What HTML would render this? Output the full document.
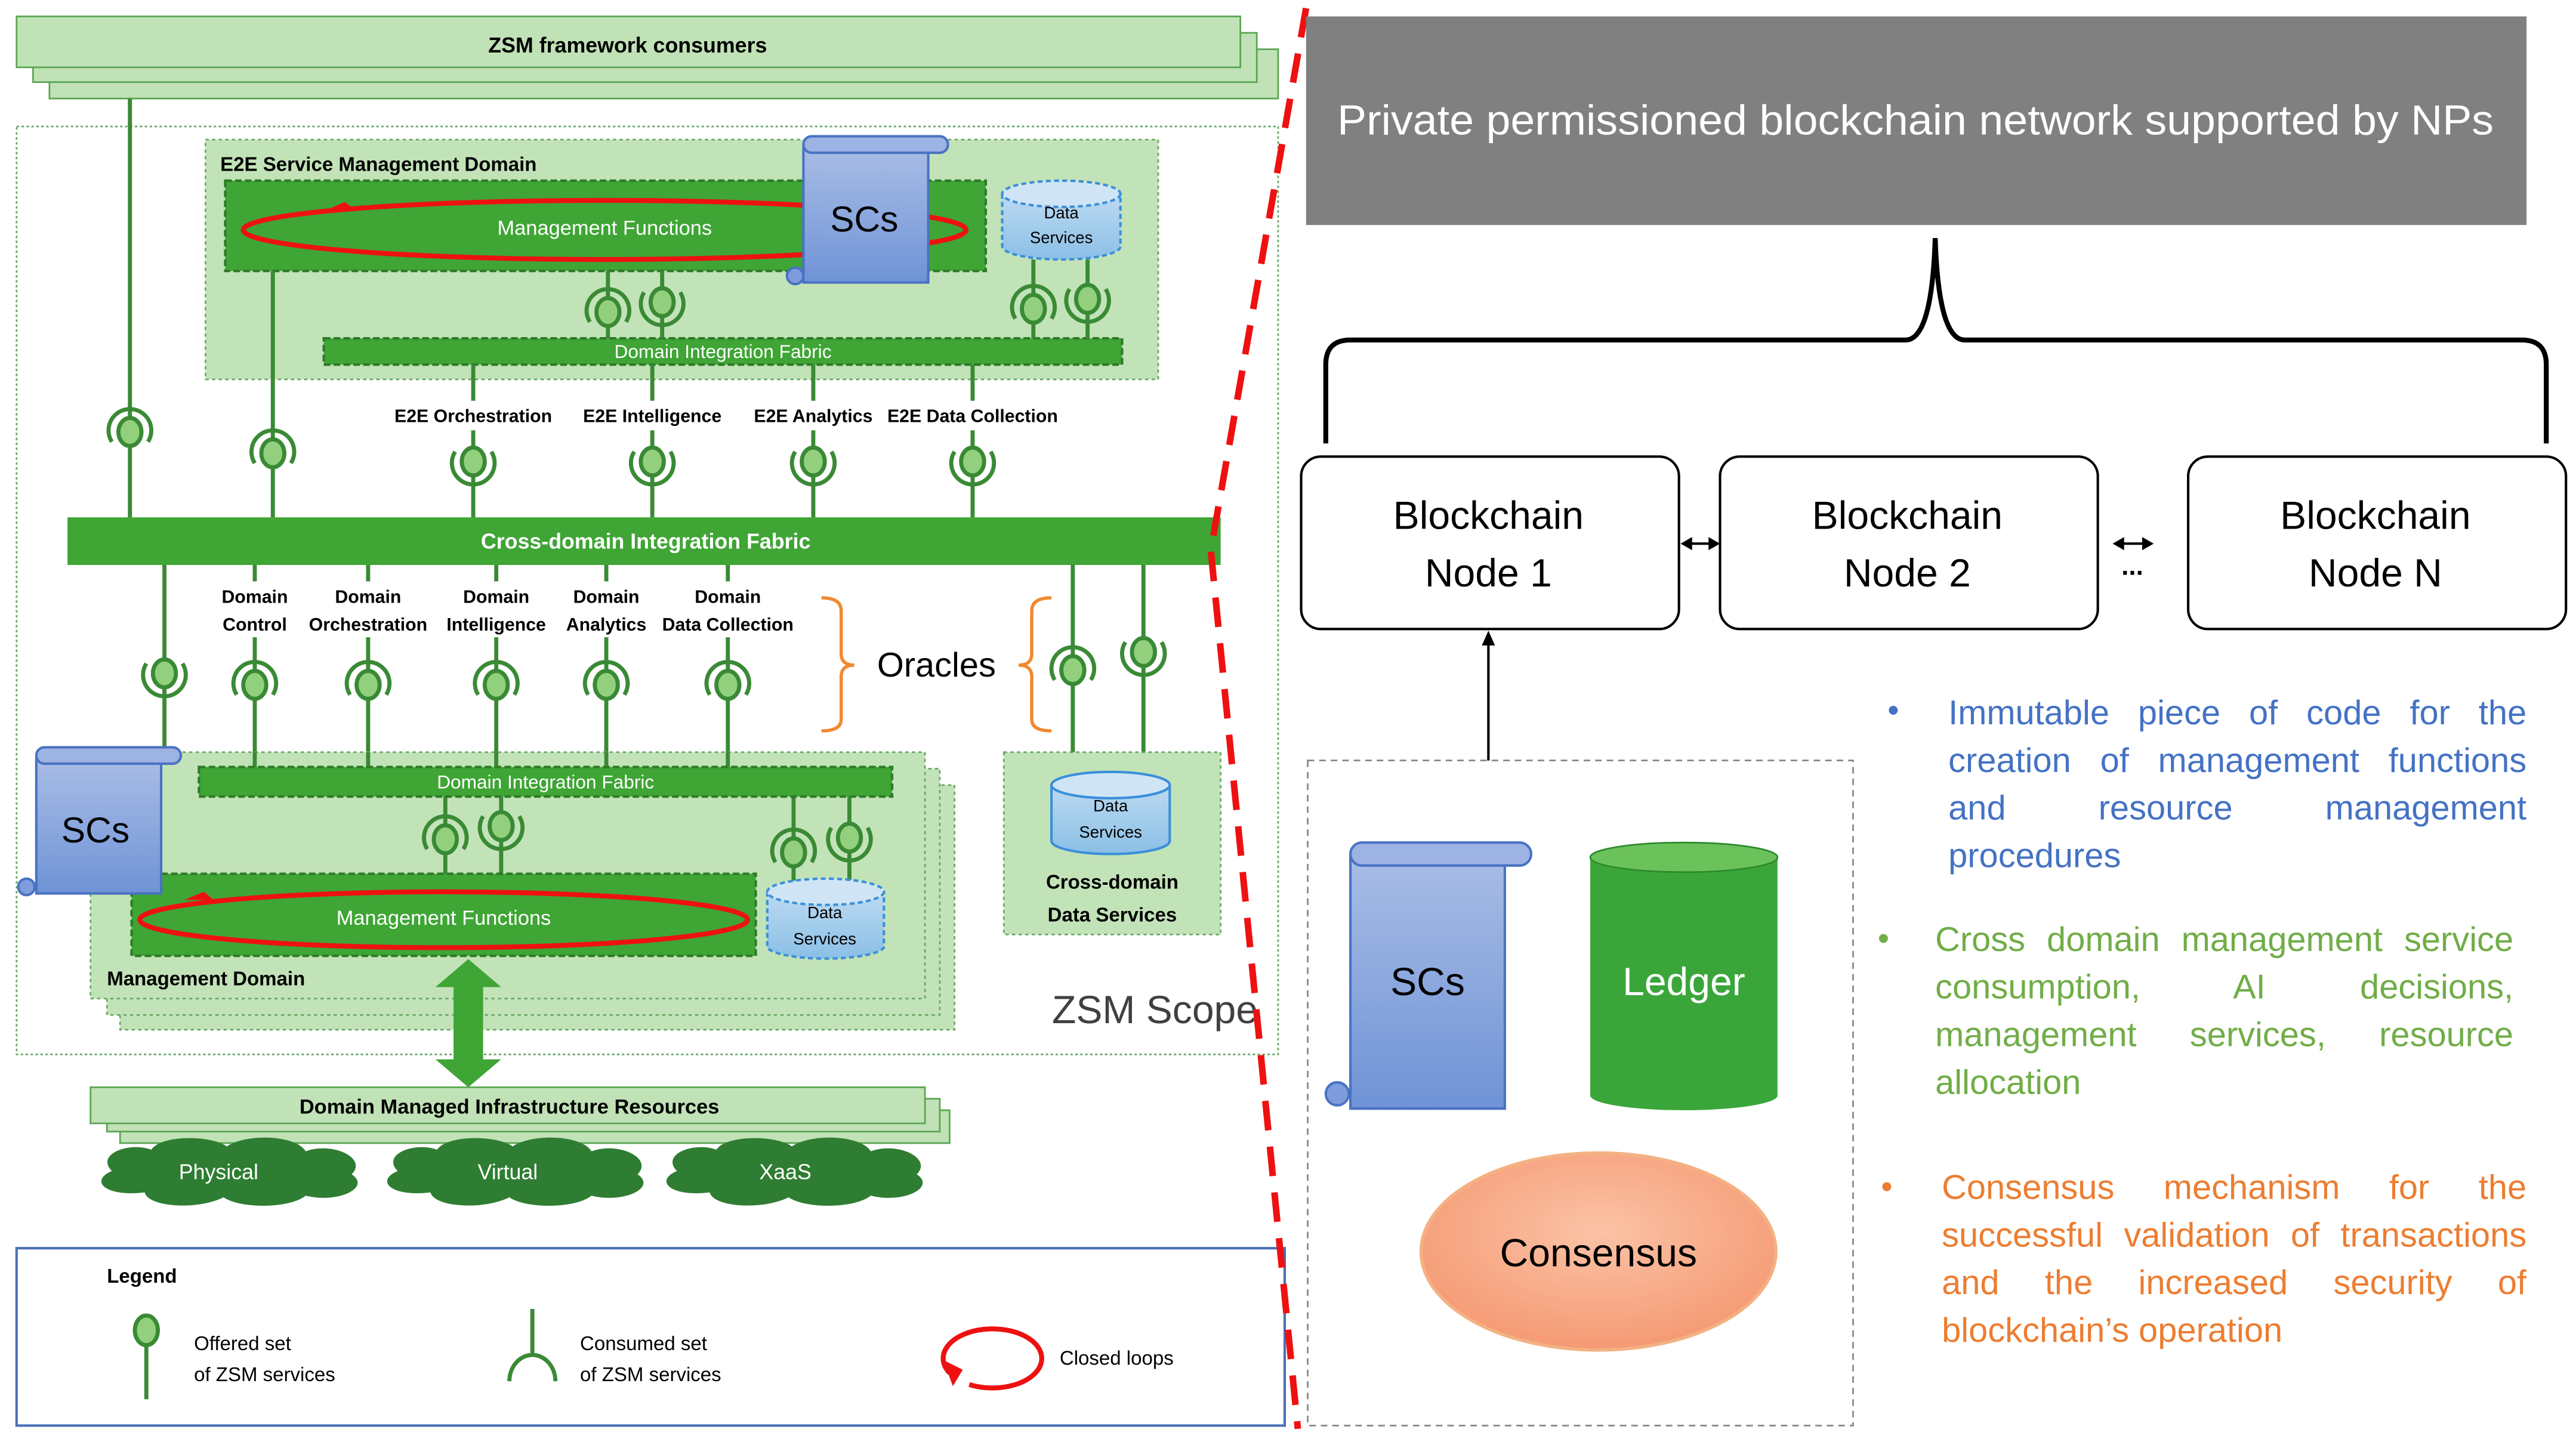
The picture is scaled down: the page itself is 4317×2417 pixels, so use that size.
<!DOCTYPE html>
<html><head><meta charset="utf-8"><style>
html,body{margin:0;padding:0;background:#fff}
svg{display:block}
text{font-family:"Liberation Sans",sans-serif}
.bl div{white-space:nowrap;font-family:"Liberation Sans",sans-serif;font-size:21px;line-height:29px;text-align:justify;text-align-last:justify;width:100%}
.bl div.last{text-align-last:left}
</style></head><body>
<svg width="4317" height="2417" viewBox="0 0 1568 878" xmlns="http://www.w3.org/2000/svg">
<defs>
<linearGradient id="scg" x1="0" y1="0" x2="0" y2="1"><stop offset="0" stop-color="#a9bde6"/><stop offset="1" stop-color="#6f93d6"/></linearGradient>
<linearGradient id="dsg" x1="0" y1="0" x2="0" y2="1"><stop offset="0" stop-color="#bcdaf2"/><stop offset="1" stop-color="#8bbfe6"/></linearGradient>
<radialGradient id="cons" cx="0.5" cy="0.4" r="0.6"><stop offset="0" stop-color="#fbc3a6"/><stop offset="1" stop-color="#f59a74"/></radialGradient>
<g id="sa"><path d="M-11,6 A13,13 0 1 1 11,6" fill="none" stroke="#3a8a35" stroke-width="2.5"/><ellipse rx="7" ry="8.5" fill="#92d07e" stroke="#3a8a35" stroke-width="2.5"/></g>
<g id="sb"><path d="M-11,-6 A13,13 0 1 0 11,-6" fill="none" stroke="#3a8a35" stroke-width="2.5"/><ellipse rx="7" ry="8.5" fill="#92d07e" stroke="#3a8a35" stroke-width="2.5"/></g>
<g id="cloud"><path d="M-72,0 C-82,-10 -62,-18 -48,-13 C-42,-22 -12,-22 -2,-15 C10,-23 40,-22 46,-12 C62,-18 84,-8 74,2 C86,10 66,20 46,15 C36,23 6,23 -4,16 C-20,24 -50,22 -52,13 C-76,16 -86,6 -72,0Z" fill="#2e7d32"/></g>
</defs>

<!-- ZSM framework consumers -->
<rect x="30" y="30" width="748" height="30" fill="#c0e2b6" stroke="#5aa552" stroke-width="1"/>
<rect x="20" y="20" width="745" height="30" fill="#c0e2b6" stroke="#5aa552" stroke-width="1"/>
<rect x="10" y="10" width="745" height="31" fill="#c0e2b6" stroke="#5aa552" stroke-width="1"/>
<text x="382" y="32" font-size="13" font-weight="bold" text-anchor="middle">ZSM framework consumers</text>

<rect x="10" y="77" width="768" height="565" fill="none" stroke="#6aa865" stroke-width="1" stroke-dasharray="1.5,1.5"/>

<!-- E2E SMD -->
<rect x="125" y="85" width="580" height="146" fill="#c2e3b8" stroke="#6aa865" stroke-width="1" stroke-dasharray="2,2"/>
<text x="134" y="104" font-size="12" font-weight="bold">E2E Service Management Domain</text>
<rect x="137" y="110" width="463" height="55" fill="#3fa535" stroke="#2d7a27" stroke-width="1.5" stroke-dasharray="4,2"/>
<ellipse cx="368" cy="140" rx="220" ry="18" fill="none" stroke="#ee1111" stroke-width="3"/>
<rect x="190" y="119" width="35" height="6" fill="#3fa535"/>
<path d="M198,128 L216,128 L210,123Z" fill="#ee1111"/>
<text x="368" y="143" font-size="12.5" fill="#fff" text-anchor="middle">Management Functions</text>
<rect x="197" y="206" width="486" height="16" fill="#3fa535" stroke="#2d7a27" stroke-width="1.5" stroke-dasharray="4,2"/>
<text x="440" y="218" font-size="11.5" fill="#fff" text-anchor="middle">Domain Integration Fabric</text>
<path d="M610,118 L610,150 A36,8 0 0 0 682,150 L682,118" fill="url(#dsg)" stroke="#3b8fd9" stroke-width="1.5" stroke-dasharray="3,2"/>
<ellipse cx="646" cy="118" rx="36" ry="8" fill="#cfe5f6" stroke="#3b8fd9" stroke-width="1.5" stroke-dasharray="3,2"/>
<text x="646" y="133" font-size="10" text-anchor="middle">Data</text>
<text x="646" y="148" font-size="10" text-anchor="middle">Services</text>
<rect x="489" y="90" width="76" height="82" fill="url(#scg)" stroke="#4a72c4" stroke-width="1.5"/>
<rect x="489" y="83" width="88" height="10" rx="5" fill="#9db3e3" stroke="#4a72c4" stroke-width="1.5"/>
<circle cx="484" cy="168" r="5" fill="#7f9ddc" stroke="#4a72c4" stroke-width="1.5"/>
<text x="526" y="141" font-size="22" text-anchor="middle">SCs</text>
<g stroke="#3a8a35" stroke-width="2.5">
<line x1="370" y1="165" x2="370" y2="206"/><line x1="403" y1="165" x2="403" y2="206"/>
<line x1="629" y1="158" x2="629" y2="206"/><line x1="662" y1="158" x2="662" y2="206"/>
<line x1="79" y1="60" x2="79" y2="315"/><line x1="166" y1="165" x2="166" y2="315"/>
<line x1="288" y1="222" x2="288" y2="244"/><line x1="288" y1="262" x2="288" y2="315"/>
<line x1="397" y1="222" x2="397" y2="244"/><line x1="397" y1="262" x2="397" y2="315"/>
<line x1="495" y1="222" x2="495" y2="244"/><line x1="495" y1="262" x2="495" y2="315"/>
<line x1="592" y1="222" x2="592" y2="244"/><line x1="592" y1="262" x2="592" y2="315"/>
</g>
<use href="#sa" x="370" y="190"/><use href="#sb" x="403" y="184"/>
<use href="#sa" x="629" y="188"/><use href="#sb" x="662" y="182"/>
<use href="#sa" x="79" y="263"/><use href="#sa" x="166" y="276"/>
<use href="#sb" x="288" y="281"/><use href="#sb" x="397" y="281"/><use href="#sb" x="495" y="281"/><use href="#sb" x="592" y="281"/>
<g font-size="11" font-weight="bold" text-anchor="middle">
<text x="288" y="257">E2E Orchestration</text><text x="397" y="257">E2E Intelligence</text>
<text x="495" y="257">E2E Analytics</text><text x="592" y="257">E2E Data Collection</text>
</g>

<rect x="41" y="315" width="702" height="29" fill="#3fa535"/>
<text x="393" y="334" font-size="13" font-weight="bold" fill="#fff" text-anchor="middle">Cross-domain Integration Fabric</text>

<g stroke="#3a8a35" stroke-width="2.5">
<line x1="100" y1="344" x2="100" y2="467"/>
<line x1="155" y1="344" x2="155" y2="354"/><line x1="155" y1="388" x2="155" y2="467"/>
<line x1="224" y1="344" x2="224" y2="354"/><line x1="224" y1="388" x2="224" y2="467"/>
<line x1="302" y1="344" x2="302" y2="354"/><line x1="302" y1="388" x2="302" y2="467"/>
<line x1="369" y1="344" x2="369" y2="354"/><line x1="369" y1="388" x2="369" y2="467"/>
<line x1="443" y1="344" x2="443" y2="354"/><line x1="443" y1="388" x2="443" y2="467"/>
<line x1="653" y1="344" x2="653" y2="475"/><line x1="696" y1="344" x2="696" y2="475"/>
</g>
<use href="#sb" x="100" y="410"/>
<use href="#sa" x="155" y="417"/><use href="#sa" x="224" y="417"/><use href="#sa" x="302" y="417"/><use href="#sa" x="369" y="417"/><use href="#sa" x="443" y="417"/>
<use href="#sa" x="653" y="408"/><use href="#sb" x="696" y="397"/>
<g font-size="11" font-weight="bold" text-anchor="middle">
<text x="155" y="367">Domain</text><text x="155" y="384">Control</text>
<text x="224" y="367">Domain</text><text x="224" y="384">Orchestration</text>
<text x="302" y="367">Domain</text><text x="302" y="384">Intelligence</text>
<text x="369" y="367">Domain</text><text x="369" y="384">Analytics</text>
<text x="443" y="367">Domain</text><text x="443" y="384">Data Collection</text>
</g>
<path d="M500,364 Q512,364 512,372 L512,398 Q512,405 520,405 Q512,405 512,412 L512,438 Q512,445 500,445" fill="none" stroke="#f08a30" stroke-width="2"/>
<path d="M640,364 Q628,364 628,372 L628,398 Q628,405 620,405 Q628,405 628,412 L628,438 Q628,445 640,445" fill="none" stroke="#f08a30" stroke-width="2"/>
<text x="570" y="412" font-size="21" text-anchor="middle">Oracles</text>

<rect x="73" y="478" width="508" height="149" fill="#c2e3b8" stroke="#6aa865" stroke-width="1" stroke-dasharray="2,2"/>
<rect x="65" y="468" width="507" height="150" fill="#c2e3b8" stroke="#6aa865" stroke-width="1" stroke-dasharray="2,2"/>
<rect x="55" y="458" width="508" height="150" fill="#c2e3b8" stroke="#6aa865" stroke-width="1" stroke-dasharray="2,2"/>
<g stroke="#3a8a35" stroke-width="2.5">
<line x1="155" y1="458" x2="155" y2="467"/><line x1="224" y1="458" x2="224" y2="467"/><line x1="302" y1="458" x2="302" y2="467"/><line x1="369" y1="458" x2="369" y2="467"/><line x1="443" y1="458" x2="443" y2="467"/>
<line x1="271" y1="485" x2="271" y2="532"/><line x1="305" y1="485" x2="305" y2="532"/>
<line x1="483" y1="485" x2="483" y2="540"/><line x1="517" y1="485" x2="517" y2="540"/>
</g>
<rect x="121" y="467" width="422" height="18" fill="#3fa535" stroke="#2d7a27" stroke-width="1.5" stroke-dasharray="4,2"/>
<text x="332" y="480" font-size="11.5" fill="#fff" text-anchor="middle">Domain Integration Fabric</text>
<use href="#sa" x="271" y="511"/><use href="#sb" x="305" y="503"/>
<use href="#sa" x="483" y="519"/><use href="#sb" x="517" y="510"/>
<rect x="80" y="532" width="380" height="50" fill="#3fa535" stroke="#2d7a27" stroke-width="1.5" stroke-dasharray="4,2"/>
<ellipse cx="270" cy="560" rx="185" ry="17" fill="none" stroke="#ee1111" stroke-width="3"/>
<rect x="95" y="540" width="35" height="6" fill="#3fa535"/>
<path d="M112,548 L130,548 L124,543Z" fill="#ee1111"/>
<text x="270" y="563" font-size="12.5" fill="#fff" text-anchor="middle">Management Functions</text>
<path d="M467,543 L467,577 A36,8 0 0 0 538,577 L538,543" fill="url(#dsg)" stroke="#3b8fd9" stroke-width="1.5" stroke-dasharray="3,2"/>
<ellipse cx="502.5" cy="543" rx="35.5" ry="8" fill="#cfe5f6" stroke="#3b8fd9" stroke-width="1.5" stroke-dasharray="3,2"/>
<text x="502" y="559" font-size="10" text-anchor="middle">Data</text>
<text x="502" y="575" font-size="10" text-anchor="middle">Services</text>
<text x="65" y="600" font-size="12" font-weight="bold">Management Domain</text>
<rect x="22" y="462" width="76" height="82" fill="url(#scg)" stroke="#4a72c4" stroke-width="1.5"/>
<rect x="22" y="455" width="88" height="10" rx="5" fill="#9db3e3" stroke="#4a72c4" stroke-width="1.5"/>
<circle cx="16" cy="540" r="5" fill="#7f9ddc" stroke="#4a72c4" stroke-width="1.5"/>
<text x="58" y="513" font-size="22" text-anchor="middle">SCs</text>

<rect x="611" y="458" width="132" height="111" fill="#c2e3b8" stroke="#6aa865" stroke-width="1" stroke-dasharray="2,2"/>
<path d="M640,478 L640,512 A36,8 0 0 0 712,512 L712,478" fill="url(#dsg)" stroke="#3b8fd9" stroke-width="1.5"/>
<ellipse cx="676" cy="478" rx="36" ry="8" fill="#cfe5f6" stroke="#3b8fd9" stroke-width="1.5"/>
<text x="676" y="494" font-size="10" text-anchor="middle">Data</text>
<text x="676" y="510" font-size="10" text-anchor="middle">Services</text>
<text x="677" y="541" font-size="12" font-weight="bold" text-anchor="middle">Cross-domain</text>
<text x="677" y="561" font-size="12" font-weight="bold" text-anchor="middle">Data Services</text>
<text x="703" y="623" font-size="24" fill="#404040" text-anchor="middle">ZSM Scope</text>

<path d="M285,584 L305,601 L294,601 L294,645 L305,645 L285,662 L265,645 L276,645 L276,601 L265,601Z" fill="#3fa535"/>

<rect x="73" y="676" width="505" height="20" fill="#c0e2b6" stroke="#5aa552"/>
<rect x="65" y="669" width="507" height="20" fill="#c0e2b6" stroke="#5aa552"/>
<rect x="55" y="662" width="508" height="22" fill="#c0e2b6" stroke="#5aa552"/>
<text x="310" y="678" font-size="12.5" font-weight="bold" text-anchor="middle">Domain Managed Infrastructure Resources</text>
<use href="#cloud" x="140" y="713"/><use href="#cloud" x="314" y="713"/><use href="#cloud" x="484" y="713"/>
<g font-size="13" fill="#fff" text-anchor="middle">
<text x="133" y="718">Physical</text><text x="309" y="718">Virtual</text><text x="478" y="718">XaaS</text>
</g>

<rect x="10" y="760" width="772" height="108" fill="#fff" stroke="#4a6fb5" stroke-width="1.5"/>
<text x="65" y="781" font-size="12" font-weight="bold">Legend</text>
<line x1="89" y1="815" x2="89" y2="852" stroke="#3a8a35" stroke-width="2.5"/>
<ellipse cx="89" cy="810" rx="7" ry="9" fill="#92d07e" stroke="#3a8a35" stroke-width="2.5"/>
<text x="118" y="822" font-size="12">Offered set</text>
<text x="118" y="841" font-size="12">of ZSM services</text>
<line x1="324" y1="797" x2="324" y2="825" stroke="#3a8a35" stroke-width="2.5"/>
<path d="M310,841 A14,16 0 0 1 338,841" fill="none" stroke="#3a8a35" stroke-width="2.5"/>
<text x="353" y="822" font-size="12">Consumed set</text>
<text x="353" y="841" font-size="12">of ZSM services</text>
<path d="M578,836 A30,18 0 1 1 590,843" fill="none" stroke="#ee1111" stroke-width="3"/>
<path d="M574,828 L580,844 L586,834Z" fill="#ee1111"/>
<text x="645" y="831" font-size="12">Closed loops</text>

<path d="M795,5 L737,335 L790,870" fill="none" stroke="#ee1111" stroke-width="4" stroke-dasharray="18,10"/>

<rect x="795" y="10" width="743" height="127" fill="#808080"/>
<text x="1166" y="82" font-size="25.5" fill="#fff" text-anchor="middle" textLength="704" lengthAdjust="spacingAndGlyphs">Private permissioned blockchain network supported by NPs</text>
<path d="M807,270 L807,222 Q807,207 822,207 L1160,207 Q1176,207 1178,145 Q1180,207 1196,207 L1535,207 Q1550,207 1550,222 L1550,270" fill="none" stroke="#000" stroke-width="3"/>
<g fill="#fff" stroke="#000" stroke-width="1.5">
<rect x="792" y="278" width="230" height="105" rx="12"/>
<rect x="1047" y="278" width="230" height="105" rx="12"/>
<rect x="1332" y="278" width="230" height="105" rx="12"/>
</g>
<g font-size="24" text-anchor="middle">
<text x="906" y="322">Blockchain</text><text x="906" y="357">Node 1</text>
<text x="1161" y="322">Blockchain</text><text x="1161" y="357">Node 2</text>
<text x="1446" y="322">Blockchain</text><text x="1446" y="357">Node N</text>
</g>
<g stroke="#000" stroke-width="1.5">
<line x1="1026" y1="331" x2="1044" y2="331"/><line x1="1289" y1="331" x2="1308" y2="331"/>
</g>
<path d="M1023,331 L1030,327 L1030,335Z M1047,331 L1040,327 L1040,335Z M1286,331 L1293,327 L1293,335Z M1311,331 L1304,327 L1304,335Z" fill="#000"/>
<text x="1298" y="350" font-size="16" text-anchor="middle" font-weight="bold">...</text>
<line x1="906" y1="463" x2="906" y2="392" stroke="#000" stroke-width="1.5"/>
<path d="M906,384 L902,393 L910,393Z" fill="#000"/>
<rect x="796" y="463" width="332" height="405" fill="none" stroke="#888" stroke-width="1" stroke-dasharray="4,3"/>
<rect x="822" y="520" width="94" height="155" fill="url(#scg)" stroke="#4a72c4" stroke-width="1.5"/>
<rect x="822" y="513" width="110" height="14" rx="7" fill="#9db3e3" stroke="#4a72c4" stroke-width="1.5"/>
<circle cx="814" cy="666" r="7" fill="#7f9ddc" stroke="#4a72c4" stroke-width="1.5"/>
<text x="869" y="606" font-size="24" text-anchor="middle">SCs</text>
<path d="M968,522 L968,667 A57,9 0 0 0 1082,667 L1082,522" fill="#3aa63a"/>
<ellipse cx="1025" cy="522" rx="57" ry="9" fill="#6cc25a" stroke="#2d8a2d"/>
<text x="1025" y="606" font-size="24" fill="#fff" text-anchor="middle">Ledger</text>
<ellipse cx="973" cy="762" rx="108" ry="60" fill="url(#cons)" stroke="#f4b183" stroke-width="2"/>
<text x="973" y="771" font-size="24" text-anchor="middle">Consensus</text>

<g font-size="20">
<text x="1149" y="439" fill="#4472c4">•</text>
<text x="1143" y="578" fill="#70ad47">•</text>
<text x="1145" y="729" fill="#ed7d31">•</text>
</g>
<foreignObject x="1186" y="420" width="352" height="120">
<div xmlns="http://www.w3.org/1999/xhtml" class="bl" style="color:#4472c4">
<div>Immutable piece of code for the</div>
<div>creation of management functions</div>
<div>and resource management</div>
<div class="last">procedures</div>
</div>
</foreignObject>
<foreignObject x="1178" y="558" width="352" height="120">
<div xmlns="http://www.w3.org/1999/xhtml" class="bl" style="color:#70ad47">
<div>Cross domain management service</div>
<div>consumption, AI decisions,</div>
<div>management services, resource</div>
<div class="last">allocation</div>
</div>
</foreignObject>
<foreignObject x="1182" y="709" width="356" height="120">
<div xmlns="http://www.w3.org/1999/xhtml" class="bl" style="color:#ed7d31">
<div>Consensus mechanism for the</div>
<div>successful validation of transactions</div>
<div>and the increased security of</div>
<div class="last">blockchain’s operation</div>
</div>
</foreignObject>
</svg>
</body></html>
